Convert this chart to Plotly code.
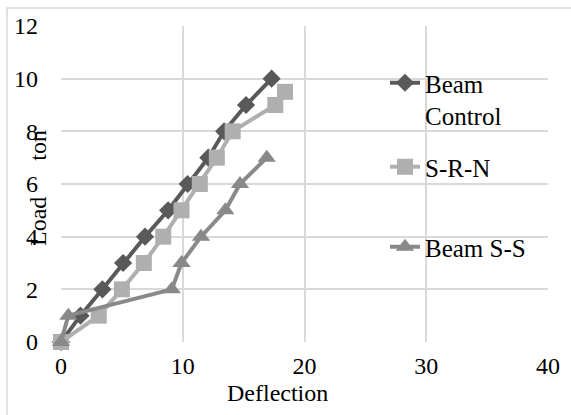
import plotly.graph_objects as go

# Data
control_x = [0, 1.6, 3.4, 5.1, 6.9, 8.8, 10.4, 12.1, 13.4, 15.2, 17.3]
control_y = [0, 1, 2, 3, 4, 5, 6, 7, 8, 9, 10]

srn_x = [0, 3.1, 5.0, 6.8, 8.4, 9.9, 11.4, 12.8, 14.1, 17.6, 18.4]
srn_y = [0, 1, 2, 3, 4, 5, 6, 7, 8, 9, 9.5]

ss_x = [0, 0.6, 9.1, 9.9, 11.5, 13.5, 14.7, 16.9]
ss_y = [0, 1, 2, 3, 4, 5, 6, 7]

names = ["Beam<br>Control", "S-R-N", "Beam S-S"]
colors = ["#595959", "#afafaf", "#898989"]
symbols = ["diamond", "square", "triangle-up"]
sizes = [14, 16, 16]

W, H = 571, 415
ML, MR, MT, MB = 61, 23, 26, 73
PW, PH = W - ML - MR, H - MT - MB


def px_x(p):
    return (p - ML) / PW


def px_y(p):
    return (H - MB - p) / PH


FONT = "Liberation Serif"

fig = go.Figure()
series = [(control_x, control_y), (srn_x, srn_y), (ss_x, ss_y)]
legend_ids = ["legend", "legend2", "legend3"]
for i, (xs, ys) in enumerate(series):
    fig.add_trace(go.Scatter(
        x=xs, y=ys, mode="lines+markers", name=names[i],
        line=dict(color=colors[i], width=4),
        marker=dict(symbol=symbols[i], size=sizes[i], color=colors[i]),
        cliponaxis=False, legend=legend_ids[i],
    ))

legend_common = dict(
    font=dict(family=FONT, size=25, color="#000000"),
    bgcolor="rgba(0,0,0,0)", borderwidth=0,
    xanchor="left", yanchor="middle", valign="top",
    itemwidth=30, tracegroupgap=0,
)
legend_pos = [85, 167, 247]
lx = px_x(385)
layout_legends = {}
for lid, py in zip(legend_ids, legend_pos):
    d = dict(legend_common)
    d.update(x=lx, y=px_y(py + (14 if lid == "legend" else 0)))
    layout_legends[lid] = d

fig.update_layout(
    width=W, height=H,
    margin=dict(l=ML, r=MR, t=MT, b=MB, pad=0),
    paper_bgcolor="#ffffff", plot_bgcolor="#ffffff",
    font=dict(family=FONT, size=24, color="#000000"),
    showlegend=True,
    **layout_legends,
)

fig.update_xaxes(
    range=[0, 40], dtick=10, showgrid=True, gridcolor="#d9d9d9", gridwidth=1.5,
    zeroline=False, showline=False, ticks="", ticklabelstandoff=7,
    tickfont=dict(family=FONT, size=24, color="#000000"),
)
fig.update_yaxes(
    range=[0, 12], dtick=2, showgrid=True, gridcolor="#d9d9d9", gridwidth=1.5,
    zeroline=False, showline=False, ticks="", ticklabelstandoff=22,
    tickfont=dict(family=FONT, size=24, color="#000000"),
)

# Outer chart frame
fig.add_shape(type="rect", xref="paper", yref="paper",
              x0=px_x(7), x1=px_x(590), y0=px_y(440), y1=px_y(8),
              line=dict(color="#d9d9d9", width=1.5), layer="below")

fig.add_annotation(text="Deflection", xref="paper", yref="paper",
                   x=px_x(277), y=px_y(393), showarrow=False,
                   xanchor="center", yanchor="middle",
                   font=dict(family=FONT, size=24, color="#000000"))
fig.add_annotation(text="Load\u00a0\u00a0\u00a0\u00a0\u00a0\u00a0ton", xref="paper", yref="paper",
                   x=px_x(38), y=px_y(188), showarrow=False, textangle=-90,
                   xanchor="center", yanchor="middle",
                   font=dict(family=FONT, size=24, color="#000000"))

fig.write_html("out.html")
